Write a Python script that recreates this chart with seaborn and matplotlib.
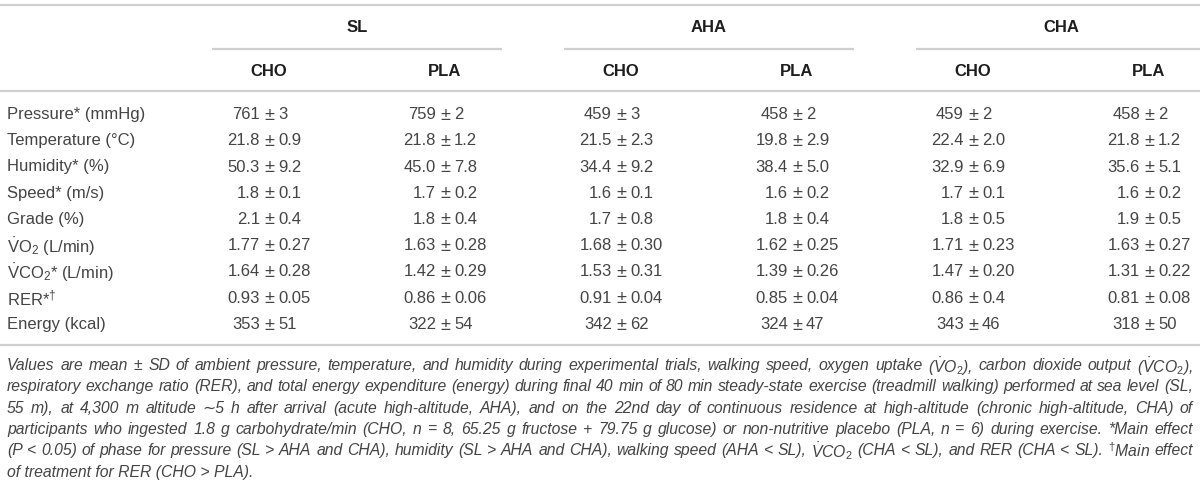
import matplotlib
matplotlib.use("Agg")
import matplotlib.pyplot as plt
import seaborn as sns

# table content
phases = ["SL", "AHA", "CHA"]
treatments = ["CHO", "PLA"]
row_labels = ["Pressure* (mmHg)", "Temperature (°C)", "Humidity* (%)", "Speed* (m/s)",
              "Grade (%)", r"$\dot{\mathrm{V}}$O$_2$ (L/min)", r"$\dot{\mathrm{V}}$CO$_2$* (L/min)",
              r"RER*$^{\dagger}$", "Energy (kcal)"]

sl_cho_mean = ["761", "21.8", "50.3", "1.8", "2.1", "1.77", "1.64", "0.93", "353"]
sl_cho_sd = ["3", "0.9", "9.2", "0.1", "0.4", "0.27", "0.28", "0.05", "51"]
sl_pla_mean = ["759", "21.8", "45.0", "1.7", "1.8", "1.63", "1.42", "0.86", "322"]
sl_pla_sd = ["2", "1.2", "7.8", "0.2", "0.4", "0.28", "0.29", "0.06", "54"]
aha_cho_mean = ["459", "21.5", "34.4", "1.6", "1.7", "1.68", "1.53", "0.91", "342"]
aha_cho_sd = ["3", "2.3", "9.2", "0.1", "0.8", "0.30", "0.31", "0.04", "62"]
aha_pla_mean = ["458", "19.8", "38.4", "1.6", "1.8", "1.62", "1.39", "0.85", "324"]
aha_pla_sd = ["2", "2.9", "5.0", "0.2", "0.4", "0.25", "0.26", "0.04", "47"]
cha_cho_mean = ["459", "22.4", "32.9", "1.7", "1.8", "1.71", "1.47", "0.86", "343"]
cha_cho_sd = ["2", "2.0", "6.9", "0.1", "0.5", "0.23", "0.20", "0.4", "46"]
cha_pla_mean = ["458", "21.8", "35.6", "1.6", "1.9", "1.63", "1.31", "0.81", "318"]
cha_pla_sd = ["2", "1.2", "5.1", "0.2", "0.5", "0.27", "0.22", "0.08", "50"]

columns = [(sl_cho_mean, sl_cho_sd), (sl_pla_mean, sl_pla_sd),
           (aha_cho_mean, aha_cho_sd), (aha_pla_mean, aha_pla_sd),
           (cha_cho_mean, cha_cho_sd), (cha_pla_mean, cha_pla_sd)]

vo2 = r"$\mathit{\dot{V}}$O$_\mathit{2}$"
vco2 = r"$\mathit{\dot{V}}$CO$_\mathit{2}$"
caption_lines = [
    "Values are mean ± SD of ambient pressure, temperature, and humidity during experimental trials, walking speed, oxygen uptake (" + vo2 + "), carbon dioxide output (" + vco2 + "),",
    "respiratory exchange ratio (RER), and total energy expenditure (energy) during final 40 min of 80 min steady-state exercise (treadmill walking) performed at sea level (SL,",
    "55 m), at 4,300 m altitude \u223c5 h after arrival (acute high-altitude, AHA), and on the 22nd day of continuous residence at high-altitude (chronic high-altitude, CHA) of",
    "participants who ingested 1.8 g carbohydrate/min (CHO, n = 8, 65.25 g fructose + 79.75 g glucose) or non-nutritive placebo (PLA, n = 6) during exercise. *Main effect",
    "(P < 0.05) of phase for pressure (SL > AHA and CHA), humidity (SL > AHA and CHA), walking speed (AHA < SL), " + vco2 + r" (CHA < SL), and RER (CHA < SL). $^{\dagger}$Main effect",
    "of treatment for RER (CHO > PLA).",
]

sns.set_theme(style="white")
plt.rcParams["font.family"] = ["Liberation Sans", "DejaVu Sans"]
plt.rcParams["mathtext.fontset"] = "custom"
plt.rcParams["mathtext.rm"] = "Liberation Sans"
plt.rcParams["mathtext.it"] = "Liberation Sans:italic"
plt.rcParams["mathtext.bf"] = "Liberation Sans:bold"
plt.rcParams["mathtext.fallback"] = "stixsans"

body = "#444444"
head = "#1e1e1e"
rule = "#cfcfcf"

fig = plt.figure(figsize=(12, 4.84), dpi=100)
ax = fig.add_axes([0, 0, 1, 1])
ax.set_xlim(0, 1200)
ax.set_ylim(484, 0)
ax.axis("off")

# rules
ax.hlines([5, 91, 345], 0, 1200, color=rule, lw=1.6)
col_x = [269 + 176 * i for i in range(6)]
for i, ph in enumerate(phases):
    cx = (col_x[2 * i] + col_x[2 * i + 1]) / 2
    ax.text(cx, 27, ph, ha="center", va="center", fontsize=12, fontweight="bold", color=head)
    ax.hlines(49, cx - 145, min(cx + 145, 1200), color=rule, lw=1.6)
    for j, tr in enumerate(treatments):
        ax.text(col_x[2 * i + j], 72, tr, ha="center", va="center", fontsize=12,
                fontweight="bold", color=head)

row_y = [113 + 26.25 * r for r in range(len(row_labels))]
for y, lab in zip(row_y, row_labels):
    ax.text(7, y, lab, ha="left", va="center_baseline", fontsize=12, color=body)

for x, (means, sds) in zip(col_x, columns):
    for y, m, s in zip(row_y, means, sds):
        ax.text(x - 9, y, m, ha="right", va="center_baseline", fontsize=12, color=body)
        ax.text(x, y, "±", ha="center", va="center_baseline", fontsize=13, color=body)
        ax.text(x + 9, y, s, ha="left", va="center_baseline", fontsize=12, color=body)

# caption, justified like the journal layout
renderer = fig.canvas.get_renderer()
cap_fs = 11.3
cap_y = [364 + 21.3 * k for k in range(len(caption_lines))]
left, right = 7, 1193
inv = ax.transData.inverted()
for k, (y, line) in enumerate(zip(cap_y, caption_lines)):
    if k == len(caption_lines) - 1:
        ax.text(left, y, line, ha="left", va="center_baseline", fontsize=cap_fs,
                style="italic", color=body)
        continue
    words = line.split(" ")
    arts = [ax.text(0, y, w, ha="left", va="center_baseline", fontsize=cap_fs,
                    style="italic", color=body) for w in words]
    widths = []
    for a in arts:
        bb = a.get_window_extent(renderer)
        widths.append(inv.transform((bb.x1, bb.y0))[0] - inv.transform((bb.x0, bb.y0))[0])
    gap = max((right - left - sum(widths)) / (len(words) - 1), 2.5)
    xpos = left
    for a, w in zip(arts, widths):
        a.set_x(xpos)
        xpos += w + gap

fig.savefig("out.png", dpi=100)
